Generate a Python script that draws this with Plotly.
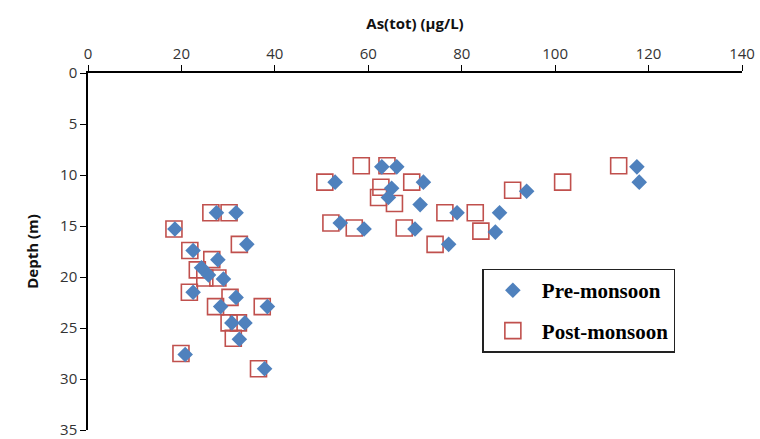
import plotly.graph_objects as go

# Pre-monsoon As(tot) (µg/L) and depth (m)
pre_as = [117.5, 118.0, 62.9, 66.1, 52.9, 71.8, 65.0, 64.3, 71.1, 93.9, 79.0, 88.1,
          54.0, 59.1, 70.0, 87.2, 77.2,
          27.5, 31.7, 18.6, 34.0, 22.5, 27.8, 24.3, 25.8, 29.0, 22.5, 31.7, 28.4,
          38.4, 30.8, 33.6, 32.4, 20.8, 37.8]
pre_depth = [9.2, 10.7, 9.2, 9.2, 10.7, 10.7, 11.3, 12.2, 12.9, 11.6, 13.7, 13.7,
             14.7, 15.3, 15.3, 15.6, 16.8,
             13.7, 13.7, 15.3, 16.8, 17.4, 18.3, 19.1, 19.8, 20.2, 21.5, 22.0, 22.9,
             22.9, 24.5, 24.5, 26.1, 27.6, 29.0]

# Post-monsoon
post_as = [58.5, 64.0, 50.7, 69.3, 62.7, 62.2, 65.6, 90.9, 76.4, 82.9, 52.0, 57.0,
           67.7, 84.1, 74.3, 101.6, 113.6,
           26.3, 30.2, 18.4, 32.4, 21.8, 26.5, 23.4, 25.0, 27.8, 21.7, 30.4, 27.3,
           37.3, 30.2, 32.2, 31.1, 19.9, 36.5]
post_depth = [9.1, 9.1, 10.7, 10.7, 11.2, 12.2, 12.8, 11.5, 13.7, 13.7, 14.7, 15.2,
              15.2, 15.5, 16.8, 10.7, 9.1,
              13.7, 13.7, 15.3, 16.8, 17.4, 18.3, 19.3, 20.1, 20.1, 21.5, 22.0, 22.9,
              22.9, 24.5, 24.5, 26.0, 27.5, 29.0]

x_ticks = [0, 20, 40, 60, 80, 100, 120, 140]
y_ticks = [0, 5, 10, 15, 20, 25, 30, 35]

fig = go.Figure()
fig.add_trace(go.Scatter(
    x=post_as, y=post_depth, mode="markers", name="<b>Post-monsoon</b>",
    legendgroup="post", legendrank=2,
    marker=dict(symbol="square-open", size=16, color="#C0504D",
                line=dict(width=1.6, color="#C0504D")),
))
fig.add_trace(go.Scatter(
    x=pre_as, y=pre_depth, mode="markers", name="<b>Pre-monsoon</b>",
    legendgroup="pre", legendrank=1,
    marker=dict(symbol="diamond", size=12, color="#4F81BD",
                line=dict(width=0)),
))

axis_font = dict(family="Open Sans, Liberation Sans, sans-serif", size=15, color="#333333")
title_font = dict(family="Open Sans, Liberation Sans, sans-serif", size=15, color="#111111")

fig.update_layout(
    width=760, height=439,
    margin=dict(l=88, r=18, t=73, b=9),
    paper_bgcolor="white", plot_bgcolor="white",
    showlegend=True,
    legend=dict(
        x=0.603, y=0.452, xanchor="left", yanchor="top",
        bordercolor="#222222", borderwidth=1.5, bgcolor="white",
        font=dict(family="Liberation Serif, serif", size=21, color="black"),
        tracegroupgap=10,
        itemsizing="trace",
        itemwidth=48,
    ),
    xaxis=dict(
        side="top", range=[0, 140], tickvals=x_ticks,
        showline=True, linecolor="black", linewidth=1.5,
        ticks="outside", ticklen=6, tickcolor="black", tickwidth=1.2,
        showgrid=False, zeroline=False, tickfont=axis_font,
        automargin=False,
        title=dict(text="<b>As(tot) (µg/L)</b>", font=title_font, standoff=10),
    ),
    yaxis=dict(
        range=[35, 0], tickvals=y_ticks,
        showline=True, linecolor="black", linewidth=1.5,
        ticks="outside", ticklen=6, tickcolor="black", tickwidth=1.2,
        showgrid=False, zeroline=False, tickfont=axis_font,
        ticklabeloverflow="allow", automargin=False,
        title=dict(text="<b>Depth (m)</b>", font=title_font, standoff=18),
    ),
)

fig.write_html("out.html")
